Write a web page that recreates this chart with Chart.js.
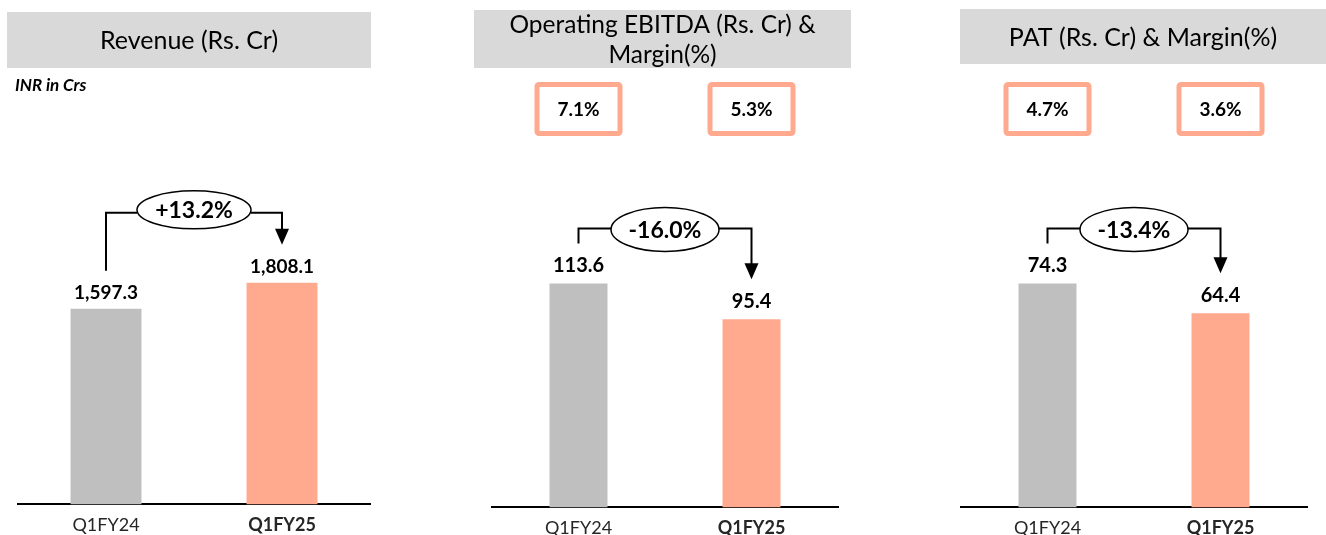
<!DOCTYPE html>
<html>
<head>
<meta charset="utf-8">
<script src="https://cdn.jsdelivr.net/npm/chart.js@4.4.1/dist/chart.umd.min.js"></script>
<style>
  body { margin: 0; background: #fff; width: 1326px; height: 535px; overflow: hidden; position: relative; }
  canvas { position: absolute; top: 0; }
</style>
</head>
<body>
<canvas id="rev" width="380" height="546" style="left:0px"></canvas>
<canvas id="ebitda" width="390" height="549" style="left:470px"></canvas>
<canvas id="pat" width="381" height="549" style="left:945px"></canvas>
<script>
// values
const categories = ['Q1FY24', 'Q1FY25'];
const revenue = [1597.3, 1808.1];
const ebitda = [113.6, 95.4];
const pat = [74.3, 64.4];
const ebitdaMargin = [7.1, 5.3];
const patMargin = [4.7, 3.6];
const growth = ['+13.2%', '-16.0%', '-13.4%'];

const barColors = ['#BFBFBF', '#FFA98F'];
const FONT = 'Lato, Carlito, "Open Sans", sans-serif';

// draws the title box, margin boxes, value labels and the growth arrow
const decor = {
  id: 'decor',
  afterDraw(chart) {
    const o = chart.options.plugins.decor;
    const ctx = chart.ctx;
    const meta = chart.getDatasetMeta(0);
    const vals = chart.data.datasets[0].data;
    ctx.save();

    // title box
    const [bx, by, bw, bh] = o.box;
    ctx.fillStyle = '#D9D9D9';
    ctx.fillRect(bx, by, bw, bh);
    ctx.fillStyle = '#000';
    ctx.font = o.titleSize + 'px ' + FONT;
    ctx.textAlign = 'center';
    ctx.textBaseline = 'middle';
    o.title.forEach((t, i) => ctx.fillText(t, bx + bw / 2, o.titleY[i]));

    if (o.note) {
      ctx.font = 'italic bold 17px ' + FONT;
      ctx.textAlign = 'left';
      ctx.fillText(o.note, 15, 86);
    }

    // margin boxes
    if (o.margins) {
      meta.data.forEach((bar, i) => {
        ctx.strokeStyle = '#FFA98F';
        ctx.lineWidth = 5;
        ctx.beginPath();
        ctx.roundRect(bar.x - 41.5, 84.5, 83, 49, 2);
        ctx.stroke();
        ctx.fillStyle = '#000';
        ctx.font = 'bold 19px ' + FONT;
        ctx.textAlign = 'center';
        ctx.fillText(o.margins[i].toFixed(1) + '%', bar.x, 110);
      });
    }

    // value labels
    const labelY = [];
    meta.data.forEach((bar, i) => {
      const y = bar.y - o.labelGap;
      labelY.push(y);
      ctx.fillStyle = '#000';
      ctx.font = 'bold ' + o.labelSize + 'px ' + FONT;
      ctx.textAlign = 'center';
      ctx.fillText(vals[i].toLocaleString('en-US', { minimumFractionDigits: 1, maximumFractionDigits: 1 }), bar.x, y);
    });

    // growth arrow
    const [b0, b1] = meta.data;
    const sY = labelY[0] - 22;
    const tY = labelY[1] - 22;
    const hY = Math.min(sY - 15, tY - 32);
    const cx = (b0.x + b1.x) / 2;
    const [rx, ry] = o.ellipse;
    ctx.strokeStyle = '#000';
    ctx.fillStyle = '#000';
    ctx.lineWidth = 2;
    ctx.beginPath();
    ctx.moveTo(b0.x, sY);
    ctx.lineTo(b0.x, hY);
    ctx.lineTo(cx - rx, hY);
    ctx.stroke();
    ctx.beginPath();
    ctx.moveTo(cx + rx, hY);
    ctx.lineTo(b1.x, hY);
    ctx.lineTo(b1.x, tY - 14);
    ctx.stroke();
    ctx.beginPath();
    ctx.moveTo(b1.x - 7, tY - 16);
    ctx.lineTo(b1.x + 7, tY - 16);
    ctx.lineTo(b1.x, tY);
    ctx.closePath();
    ctx.fill();

    ctx.beginPath();
    ctx.ellipse(cx, hY - o.ellipseShift, rx, ry, 0, 0, Math.PI * 2);
    ctx.fillStyle = '#fff';
    ctx.fill();
    ctx.lineWidth = 1.5;
    ctx.stroke();
    ctx.fillStyle = '#000';
    ctx.font = 'bold 23px ' + FONT;
    ctx.fillText(o.growth, cx, hY - o.ellipseShift + 1);

    ctx.restore();
  }
};

function makeChart(id, values, yMax, pad, barPct, deco) {
  return new Chart(document.getElementById(id), {
    type: 'bar',
    data: {
      labels: categories,
      datasets: [{
        data: values,
        backgroundColor: barColors,
        borderWidth: 0,
        barPercentage: barPct,
        categoryPercentage: 1
      }]
    },
    options: {
      responsive: false,
      animation: false,
      layout: { padding: pad },
      plugins: {
        legend: { display: false },
        tooltip: { enabled: false },
        decor: deco
      },
      scales: {
        x: {
          grid: { display: false, drawTicks: false, tickLength: 0 },
          border: { display: true, color: '#000', width: 2 },
          ticks: {
            color: '#262626',
            padding: 10,
            maxRotation: 0,
            font: (c) => ({ family: FONT, size: 18, weight: c.index === 1 ? 'bold' : 'normal' })
          }
        },
        y: { display: false, min: 0, max: yMax }
      }
    },
    plugins: [decor]
  });
}

makeChart('rev', revenue, 2974, { top: 140, left: 18, right: 10, bottom: 0 }, 0.403, {
  box: [7, 12, 364, 56], title: ['Revenue (Rs. Cr)'], titleSize: 25, titleY: [41], note: 'INR in Crs',
  labelGap: 16, labelSize: 19, growth: growth[0], ellipse: [57, 19], ellipseShift: 3
});
makeChart('ebitda', ebitda, 186.4, { top: 140, left: 22, right: 22, bottom: 0 }, 0.335, {
  box: [4, 10, 377, 58], title: ['Operating EBITDA (Rs. Cr) &', 'Margin(%)'], titleSize: 24.5, titleY: [25, 55],
  margins: ebitdaMargin, labelGap: 18, labelSize: 20, growth: growth[1], ellipse: [54, 22], ellipseShift: -1
});
makeChart('pat', pat, 121.9, { top: 140, left: 16, right: 19, bottom: 0 }, 0.335, {
  box: [15, 9, 366, 55], title: ['PAT (Rs. Cr) & Margin(%)'], titleSize: 25, titleY: [38],
  margins: patMargin, labelGap: 18, labelSize: 20, growth: growth[2], ellipse: [54, 22], ellipseShift: -1
});
</script>
</body>
</html>
